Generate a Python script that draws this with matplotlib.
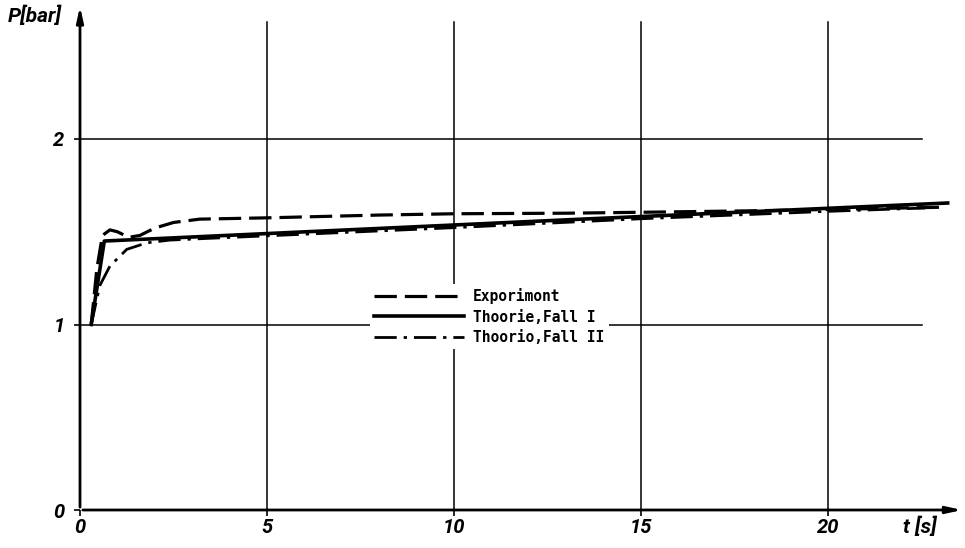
import matplotlib

matplotlib.use("Agg")
import matplotlib.pyplot as plt

# pressure curves
t_exp = [0.3, 0.45, 0.6, 0.8, 1.0, 1.3, 1.6, 2.0, 2.5, 3.2, 5.0, 8.0, 10.0, 13.0, 15.0, 18.0, 20.0, 23.0]
p_exp = [1.0, 1.30, 1.48, 1.51, 1.50, 1.47, 1.48, 1.52, 1.55, 1.568, 1.575, 1.59, 1.597, 1.60, 1.605, 1.613, 1.62, 1.632]

t_fall1 = [0.3, 0.65, 13.2, 23.2]
p_fall1 = [1.0, 1.45, 1.566, 1.655]

t_fall2 = [0.3, 0.53, 0.8, 1.25, 1.78, 2.4, 3.5, 5.0, 10.0, 15.0, 20.0, 22.6]
p_fall2 = [1.0, 1.21, 1.315, 1.405, 1.44, 1.455, 1.465, 1.478, 1.522, 1.57, 1.61, 1.628]

legend_labels = ["Exporimont", "Thoorie,Fall I", "Thoorio,Fall II"]
x_ticks = [0, 5, 10, 15, 20]
y_ticks = [0, 1, 2]

LABEL_FONT = ["Roboto", "DejaVu Sans"]

fig = plt.figure(figsize=(9.65, 5.48), dpi=100)
ax = fig.add_axes([80 / 965, 38 / 548, 885 / 965, 510 / 548])
ax.set_xlim(0, 885 / 37.4)
ax.set_ylim(0, 510 / 185.5)
for s in ax.spines.values():
    s.set_visible(False)

# grid
for yv in (1, 2):
    ax.plot([0, 22.5], [yv, yv], color="black", lw=1.1, zorder=1)
for xv in x_ticks[1:]:
    ax.plot([xv, xv], [0, 2.63], color="black", lw=1.1, zorder=1)

# axes with arrows
ax.annotate("", xy=(23.66, 0), xytext=(0, 0),
            arrowprops=dict(arrowstyle="-|>,head_length=0.9,head_width=0.2", color="black", lw=2.0),
            annotation_clip=False, zorder=4)
ax.annotate("", xy=(0, 2.73), xytext=(0, 0),
            arrowprops=dict(arrowstyle="-|>,head_length=0.9,head_width=0.2", color="black", lw=2.0),
            annotation_clip=False, zorder=4)

ax.plot(t_exp, p_exp, color="black", lw=2.3, dashes=(7, 2.5), label=legend_labels[0], zorder=3)
ax.plot(t_fall1, p_fall1, color="black", lw=2.6, label=legend_labels[1], zorder=3)
ax.plot(t_fall2, p_fall2, color="black", lw=2.0, dashes=(8, 2.5, 1.2, 2.5), label=legend_labels[2], zorder=3)

ax.set_xticks(x_ticks)
ax.set_xticklabels([str(v) for v in x_ticks])
ax.set_yticks(y_ticks)
ax.set_yticklabels([str(v) for v in y_ticks])
ax.tick_params(axis="both", direction="out", length=4, width=1.2, color="black")
ax.tick_params(axis="x", pad=2)
ax.tick_params(axis="y", pad=7)
for lab in ax.get_xticklabels() + ax.get_yticklabels():
    lab.set_family(LABEL_FONT)
    lab.set_fontweight("bold")
    lab.set_fontstyle("italic")
    lab.set_fontsize(14.5)

fig.text(8 / 965, 1 - 16 / 548, "P[bar]", family=LABEL_FONT, fontweight="bold",
         fontstyle="italic", fontsize=15, ha="left", va="center")
fig.text(903 / 965, 1 - 527 / 548, "t [s]", family=LABEL_FONT, fontweight="bold",
         fontstyle="italic", fontsize=15, ha="left", va="center")

leg = ax.legend(loc="center left", bbox_to_anchor=(7.55, 1.043), bbox_transform=ax.transData,
                frameon=True, facecolor="white", edgecolor="none", framealpha=1.0,
                handlelength=6.2, handletextpad=0.6, labelspacing=0.35, borderpad=0.3,
                prop={"family": "DejaVu Sans Mono", "weight": "bold", "size": 10.5})
leg.set_zorder(5)
leg.get_frame().set_boxstyle("square", pad=0.0)

fig.savefig("out.png", dpi=100)
